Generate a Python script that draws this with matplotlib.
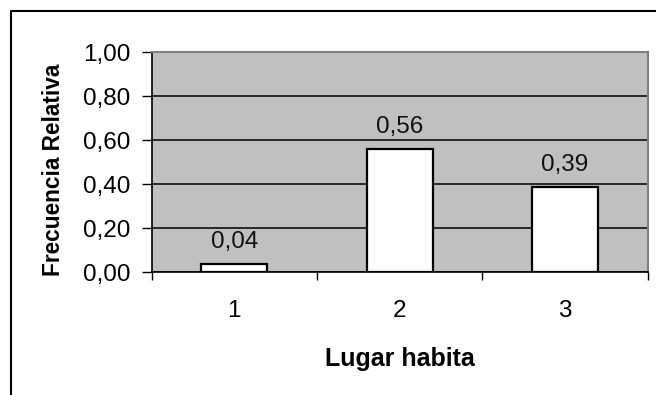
import matplotlib
matplotlib.use("Agg")
import matplotlib.pyplot as plt
from matplotlib.patches import Rectangle
from matplotlib.ticker import FuncFormatter, FixedLocator

categories = ["1", "2", "3"]
values = [0.04, 0.56, 0.39]
value_labels = ["0,04", "0,56", "0,39"]
yticks = [0.0, 0.2, 0.4, 0.6, 0.8, 1.0]
xlabel = "Lugar habita"
ylabel = "Frecuencia Relativa"

plt.rcParams['font.family'] = ['Liberation Sans', 'DejaVu Sans']

W, H = 656, 395
fig = plt.figure(figsize=(W / 100, H / 100), dpi=100)

# outer chart frame (cut off at right and bottom)
fig.patches.append(Rectangle((11 / W, -0.2), 1.2, (H - 11) / H + 0.2,
                             transform=fig.transFigure, fill=False,
                             edgecolor='black', linewidth=1.5))

left, right, top, bottom = 151.7, 647.7, 52.3, 272.3
ax = fig.add_axes([left / W, (H - bottom) / H, (right - left) / W, (bottom - top) / H])
ax.set_facecolor('#C0C0C0')

x = list(range(1, len(categories) + 1))
ax.bar(x, values, width=0.4, color='white', edgecolor='black', linewidth=1.6, zorder=3)

for xi, v, lab in zip(x, values, value_labels):
    ax.annotate(lab, (xi, v), xytext=(0, 11.5), textcoords='offset points',
                ha='center', va='baseline', fontsize=17.5, color='#111111', zorder=4)

ax.set_xlim(0.5, len(categories) + 0.5)
ax.set_ylim(0, 1.0)
ax.set_yticks(yticks)
ax.yaxis.set_major_formatter(FuncFormatter(lambda v, p: f"{v:.2f}".replace('.', ',')))
ax.grid(axis='y', color='black', linewidth=1.1, zorder=1)
ax.set_axisbelow(True)

# x ticks at category boundaries, labels at centers
ax.xaxis.set_major_locator(FixedLocator([i + 0.5 for i in range(0, len(categories) + 1)]))
ax.xaxis.set_major_formatter(FuncFormatter(lambda v, p: ""))
ax.xaxis.set_minor_locator(FixedLocator(x))
ax.set_xticklabels(categories, minor=True)
ax.tick_params(axis='x', which='major', direction='out', length=5.5, width=1.0, color='black')
ax.tick_params(axis='x', which='minor', length=0, pad=20, labelsize=17.5)
ax.tick_params(axis='y', direction='out', length=7, width=1.0, pad=8.5, labelsize=17.5, color='black')

for s in ['top', 'right']:
    ax.spines[s].set_color('#808080')
    ax.spines[s].set_linewidth(1.5)
for s in ['left', 'bottom']:
    ax.spines[s].set_color('black')
    ax.spines[s].set_linewidth(1.2)

ax.set_xlabel(xlabel, fontsize=18, fontweight='bold')
ax.xaxis.label.set_va('center')
ax.xaxis.set_label_coords(0.5, (bottom - 358.8) / (bottom - top))
ax.set_ylabel(ylabel, fontsize=16.3, fontweight='bold')
ax.yaxis.label.set_va('center')
ax.yaxis.set_label_coords((54 - left) / (right - left), (bottom - 170) / (bottom - top))

fig.savefig("out.png", dpi=100)
